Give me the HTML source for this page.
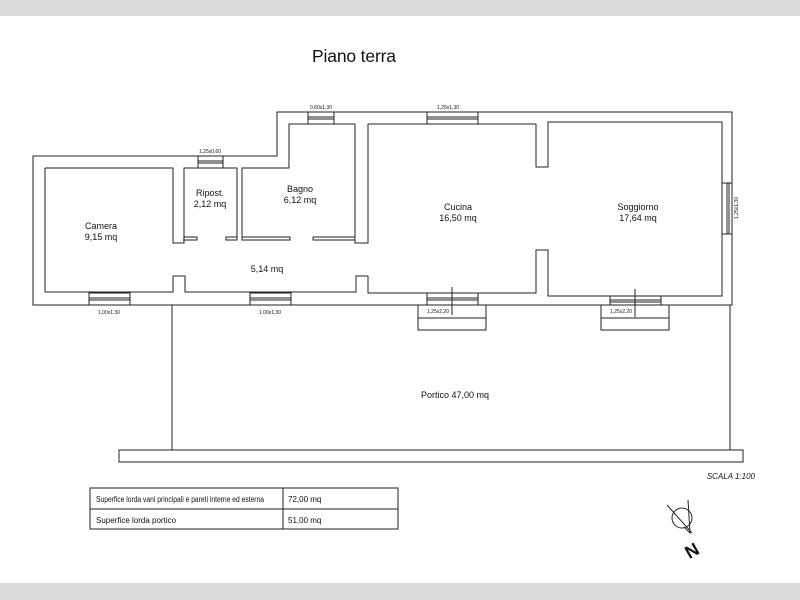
<!DOCTYPE html>
<html><head><meta charset="utf-8"><style>
html,body{margin:0;padding:0;background:#fff;}
svg{display:block;font-family:"Liberation Sans",sans-serif;}
</style></head><body>
<svg width="800" height="600" viewBox="0 0 800 600" xmlns="http://www.w3.org/2000/svg">
<rect x="0" y="0" width="800" height="16" fill="#dcdcdc"/>
<rect x="0" y="583" width="800" height="17" fill="#dcdcdc"/>
<text x="312" y="62" font-size="17.5" fill="#111" textLength="84">Piano terra</text>
<g fill="none" stroke="#222" stroke-width="1">
<path d="M33,156 H277 V112 H732 V305 H33 Z"/>
<path d="M45,168 H173 V243 H184 V168 H237 V240 H226 V237 H237"/>
<path d="M45,168 V292 H173 V276 H185 V292 H356 V276 H368 V293 H536 V250 H548 V296 H722 V122 H548 V167 H536 V124 H368 V243 H355 V124 H289 V168 H242 V240 H290 V237 H242"/>
<path d="M183,240 H197 V237 H184"/>
<path d="M313,237 V240 H355 V237 H313"/>
<g fill="#fff">
<rect x="308" y="112" width="26" height="12"/>
<rect x="198" y="156" width="25" height="12"/>
<rect x="427" y="112" width="51" height="12"/>
<rect x="722" y="183" width="10" height="51"/>
<rect x="89" y="293" width="41" height="12"/>
<rect x="250" y="293" width="41" height="12"/>
<rect x="427" y="293" width="51" height="12"/>
<rect x="610" y="296" width="51" height="9"/>
</g>
<path d="M308,117 H334 M308,119 H334 M198,161 H223 M198,163 H223 M427,117 H478 M427,119 H478 M727,183 V234 M729,183 V234 M89,298 H130 M89,300 H130 M250,298 H291 M250,300 H291 M427,298 H478 M427,300 H478 M610,300 H661 M610,302 H661"/>
<path d="M452,287 V315 M635,289 V317"/>
<rect x="418" y="305" width="68" height="25"/>
<path d="M418,318 H486"/>
<rect x="601" y="305" width="68" height="25"/>
<path d="M601,318 H669"/>
<path d="M172,305 V450 M730,305 V450"/>
<rect x="119" y="450" width="624" height="12"/>
<rect x="90" y="488" width="308" height="41"/>
<path d="M90,509 H398 M283,488 V529"/>
<circle cx="682" cy="518" r="10"/>
<path d="M667,505 L692,533 M688,500 L690,533 L684,527"/>
</g>
<g font-size="9" fill="#111" text-anchor="middle">
<text x="101" y="229">Camera</text><text x="101" y="240">9,15 mq</text>
<text x="210" y="196">Ripost.</text><text x="210" y="207">2,12 mq</text>
<text x="300" y="192">Bagno</text><text x="300" y="203">6,12 mq</text>
<text x="267" y="272">5,14 mq</text>
<text x="458" y="210">Cucina</text><text x="458" y="221">16,50 mq</text>
<text x="638" y="210">Soggiorno</text><text x="638" y="221">17,64 mq</text>
<text x="455" y="398">Portico  47,00 mq</text>
</g>
<g font-size="5" fill="#111" text-anchor="middle">
<text x="321" y="109">0,60x1,30</text>
<text x="210" y="153">1,25x0,60</text>
<text x="448" y="109">1,25x1,30</text>
<text x="109" y="314">1,00x1,30</text>
<text x="270" y="314">1,00x1,30</text>
<text x="438" y="313">1,25x2,20</text>
<text x="621" y="313">1,25x2,20</text>
<text transform="translate(738,208) rotate(-90)">1,25x1,30</text>
</g>
<text x="755" y="479" font-size="8" font-style="italic" text-anchor="end" fill="#111">SCALA 1:100</text>
<g font-size="8" fill="#111">
<text x="96" y="502" textLength="168" lengthAdjust="spacingAndGlyphs">Superfice lorda vani principali e pareti interne ed esterna</text>
<text x="288" y="502">72,00 mq</text>
<text x="96" y="523">Superfice lorda portico</text>
<text x="288" y="523">51,00 mq</text>
</g>
<text transform="translate(695,556) rotate(-30)" font-size="18" font-weight="bold" text-anchor="middle" fill="#111">N</text>
</svg>
</body></html>
